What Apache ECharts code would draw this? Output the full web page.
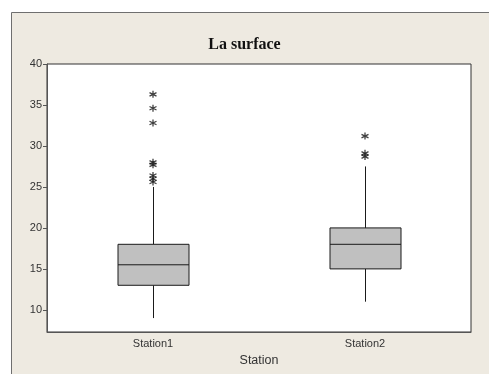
<!DOCTYPE html>
<html>
<head>
<meta charset="utf-8">
<script src="https://cdn.jsdelivr.net/npm/echarts@6/dist/echarts.min.js"></script>
<style>
html,body{margin:0;padding:0;background:#fff;}
#chart{width:489px;height:374px;}
</style>
</head>
<body>
<div id="chart"></div>
<script>
// stations on the x axis
var stations = ['Station1', 'Station2'];
// [min whisker, Q1, median, Q3, max whisker]
var boxStation1 = [9, 13, 15.5, 18, 25];
var boxStation2 = [11, 15, 18, 20, 27.5];
// outliers (asterisks)
var outStation1 = [36.3, 34.6, 32.8, 28.0, 27.7, 26.4, 26.0, 25.6];
var outStation2 = [31.2, 29.1, 28.7];
var yTicks = [10, 15, 20, 25, 30, 35, 40];

var chart = echarts.init(document.getElementById('chart'));

var boxes = [[0].concat(boxStation1), [1].concat(boxStation2)];
var outliers = [];
outStation1.forEach(function (v) { outliers.push([0, v]); });
outStation2.forEach(function (v) { outliers.push([1, v]); });

// minitab style box: no caps on the whiskers
function renderBox(params, api) {
    var x = api.value(0);
    var pLo = api.coord([x, api.value(1)]);
    var pQ1 = api.coord([x, api.value(2)]);
    var pMed = api.coord([x, api.value(3)]);
    var pQ3 = api.coord([x, api.value(4)]);
    var pHi = api.coord([x, api.value(5)]);
    var half = 35.5;
    var cx = Math.round(pMed[0]) + 0.5;
    var line = {stroke: '#1a1a1a', lineWidth: 1};
    return {
        type: 'group',
        children: [
            {type: 'line', shape: {x1: cx, y1: pLo[1], x2: cx, y2: pQ1[1]}, style: line},
            {type: 'line', shape: {x1: cx, y1: pQ3[1], x2: cx, y2: pHi[1]}, style: line},
            {type: 'rect', shape: {x: cx - half, y: pQ3[1], width: half * 2, height: pQ1[1] - pQ3[1]},
                style: {fill: '#C0C0C0', stroke: '#1a1a1a', lineWidth: 1}},
            {type: 'line', shape: {x1: cx - half, y1: pMed[1], x2: cx + half, y2: pMed[1]}, style: line}
        ]
    };
}

var option = {
    backgroundColor: '#fff',
    animation: false,
    graphic: [{
        type: 'rect',
        z: -10,
        shape: {x: 11.5, y: 12.5, width: 490, height: 380},
        style: {fill: '#EEEAE1', stroke: '#6f6f6f', lineWidth: 1}
    }],
    title: {
        text: 'La surface',
        left: 'center',
        top: 32,
        textStyle: {
            fontFamily: 'Liberation Serif',
            fontWeight: 'bold',
            fontSize: 16,
            color: '#111'
        }
    },
    grid: {
        left: 47, top: 64, right: 18, bottom: 42,
        show: true,
        backgroundColor: '#fff',
        borderColor: '#333',
        borderWidth: 1
    },
    xAxis: {
        type: 'category',
        data: stations,
        name: 'Station',
        nameLocation: 'middle',
        nameGap: 22,
        nameTextStyle: {fontFamily: 'Liberation Sans', fontSize: 12.5, color: '#333'},
        axisLine: {lineStyle: {color: '#555'}},
        axisTick: {alignWithLabel: true, length: 4, lineStyle: {color: '#555'}},
        axisLabel: {fontFamily: 'Liberation Sans', fontSize: 11, color: '#333', margin: 6},
        splitLine: {show: false}
    },
    yAxis: {
        type: 'value',
        min: 7.3,
        max: 40,
        axisLine: {show: true, lineStyle: {color: '#555'}},
        axisTick: {show: true, length: 4, customValues: yTicks, lineStyle: {color: '#555'}},
        axisLabel: {fontFamily: 'Liberation Sans', fontSize: 11, color: '#333', margin: 5, customValues: yTicks},
        splitLine: {show: false}
    },
    series: [{
        type: 'custom',
        data: boxes,
        renderItem: renderBox,
        encode: {x: 0, y: [1, 2, 3, 4, 5]}
    }, {
        type: 'scatter',
        data: outliers,
        symbol: 'path://M4,0L4,8M0.6,2L7.4,6M0.6,6L7.4,2',
        symbolSize: 7,
        itemStyle: {color: 'transparent', borderColor: '#111', borderWidth: 1.3}
    }]
};
chart.setOption(option);
</script>
</body>
</html>
